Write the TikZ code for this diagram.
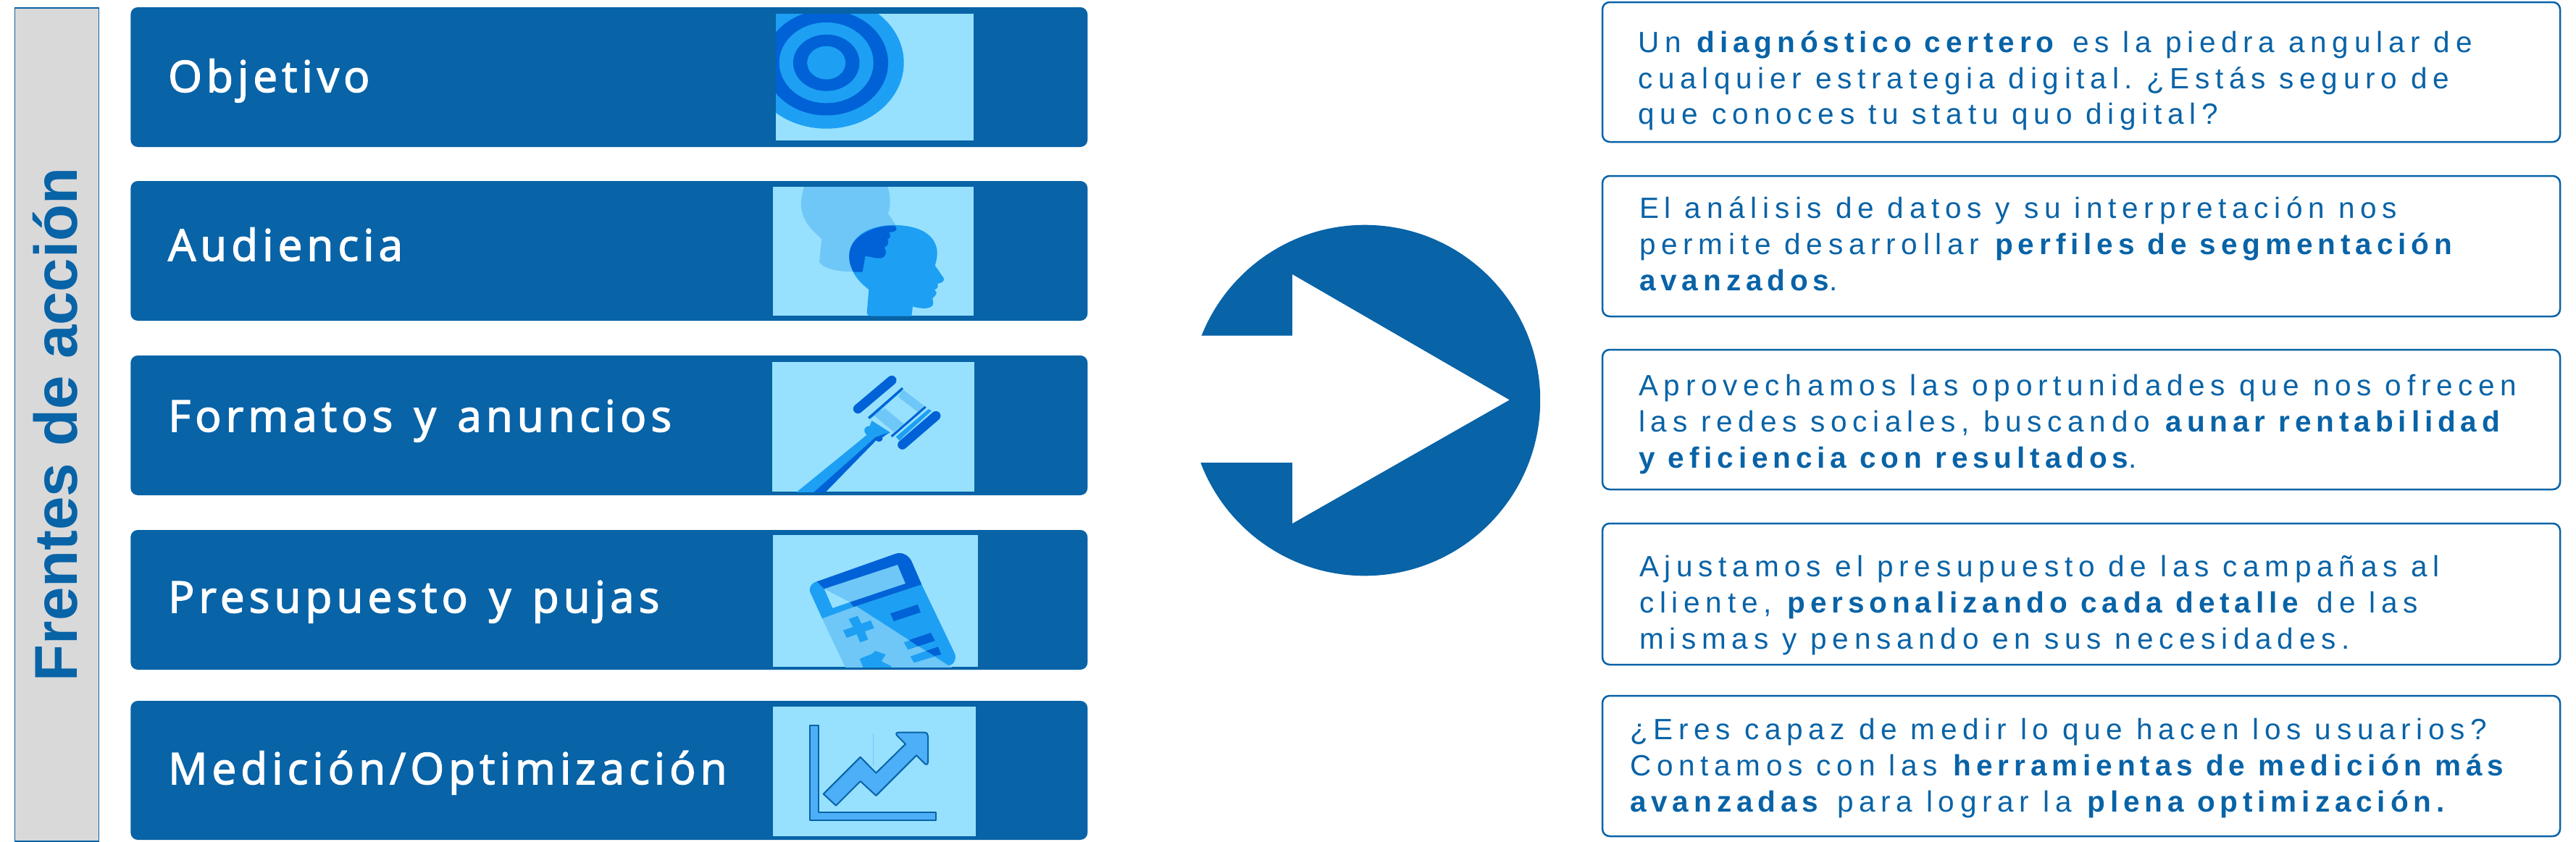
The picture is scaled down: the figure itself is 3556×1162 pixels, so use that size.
\documentclass[tikz,border=0pt]{standalone}
\usepackage{fontspec}
\newfontfamily\bodyfont[LetterSpace=19.1,BoldFeatures={LetterSpace=17}]{Liberation Sans}
\newfontfamily\labelfont[LetterSpace=10.3,WordSpace=1.35,FakeBold=2.5]{Open Sans}
\newfontfamily\sidefont{Liberation Sans}
\definecolor{navy}{HTML}{0863A7}
\definecolor{sky}{HTML}{97E1FF}
\definecolor{mid}{HTML}{1DA0F3}
\definecolor{deep}{HTML}{0062D6}
\definecolor{pale}{HTML}{6FC7F7}
\definecolor{chart}{HTML}{4DAFF7}
\definecolor{sidegray}{HTML}{D9D9D9}
\newcommand{\threelines}[3]{\vtop{\frenchspacing\baselineskip=49.8pt\hbox{#1}\hbox{#2}\hbox{#3}}}
\newcommand{\bd}[1]{\kern3pt\textbf{#1}}
\tikzset{
  bluebox/.style={rectangle,rounded corners=10pt,fill=navy,anchor=north west,inner sep=0pt,outer sep=0pt},
  textbox/.style={rectangle,rounded corners=10pt,draw=navy,line width=2.5pt,fill=white,anchor=north west,inner sep=0pt,outer sep=0pt},
  iconbg/.style={rectangle,fill=sky,anchor=north west,inner sep=0pt,outer sep=0pt},
  boxlabel/.style={anchor=base west,inner sep=0pt,text=white,font=\labelfont\fontsize{60}{70}\selectfont},
  boxtext/.style={anchor=base west,inner sep=0pt,text=navy,font=\bodyfont\fontsize{40.5}{50}\selectfont},
  zoomed/.style={x=0.33333pt,y=-0.33333pt}
}
\begin{document}
\begin{tikzpicture}[x=1pt,y=-1pt]
\useasboundingbox (0,0) rectangle (3556,1162);
\fill[white] (0,0) rectangle (3556,1162);
% side label
\node[rectangle,fill=sidegray,draw=navy,line width=1.5pt,anchor=north west,minimum width=116pt,minimum height=1151pt,inner sep=0pt] (side) at (19.7,10) {};
\node[anchor=base west,rotate=90,inner sep=0pt,text=navy,font=\sidefont\bfseries\fontsize{83.5}{90}\selectfont] (sidetext) at (106.6,941.5) {Frentes de acción};
% blue boxes
\node[bluebox,minimum width=1321pt,minimum height=193pt] (b1) at (180.3,10) {};
\node[bluebox,minimum width=1321pt,minimum height=193pt] (b2) at (180.3,250) {};
\node[bluebox,minimum width=1321pt,minimum height=193pt] (b3) at (180.3,491) {};
\node[bluebox,minimum width=1321pt,minimum height=193pt] (b4) at (180.3,732) {};
\node[bluebox,minimum width=1321pt,minimum height=192pt] (b5) at (180.3,968) {};
\node[boxlabel] (l1) at (232,127) {Objetivo};
\node[boxlabel] (l2) at (232,360) {Audiencia};
\node[boxlabel] (l3) at (232,596) {Formatos y anuncios};
\node[boxlabel] (l4) at (232,846) {Presupuesto y pujas};
\node[boxlabel] (l5) at (232,1083) {Medición/Optimización};
% icon 1: target
\node[iconbg,minimum width=273pt,minimum height=175pt] (i1) at (1071,19) {};
\begin{scope}
\clip (1071,19) rectangle (1344,194);
\fill[mid] (1140.7,86.7) ellipse [x radius=107,y radius=91];
\fill[deep] (1140.7,86.7) ellipse [x radius=85.3,y radius=72.7];
\fill[mid] (1140.7,86.7) ellipse [x radius=65,y radius=55.7];
\fill[deep] (1140.7,86.7) ellipse [x radius=45.8,y radius=39];
\fill[mid] (1140.7,86.7) ellipse [x radius=26.5,y radius=23];
\end{scope}
% icon 2: heads
\node[iconbg,minimum width=277pt,minimum height=178pt] (i2) at (1067,258) {};
\begin{scope}
\clip (1067,258) rectangle (1344,436);
\begin{scope}[shift={(1040,240)},zoomed]
\fill[pale] (215,40) .. controls (200,80) and (190,130) .. (205,170) .. controls (220,215) and (250,240) .. (283,270) -- (273,365) .. controls (290,395) and (360,408) .. (420,405) -- (600,225) -- (590,213) -- (558,165) .. controls (570,130) and (570,85) .. (550,40) -- cycle;
\fill[mid] (590,213) .. controls (480,210) and (395,260) .. (397,345) .. controls (400,410) and (440,450) .. (478,480) -- (470,575) .. controls (472,585) and (478,590) .. (485,590) -- (655,590) -- (660,550) .. controls (690,560) and (745,565) .. (745,535) -- (742,515) .. controls (750,510) and (760,498) .. (758,490) -- (750,482) .. controls (758,478) and (768,472) .. (763,455) .. controls (775,455) and (795,445) .. (788,432) -- (752,380) .. controls (762,350) and (765,320) .. (755,295) .. controls (735,240) and (670,215) .. (590,213) -- cycle;
\fill[deep] (582,215) .. controls (595,218) and (598,238) .. (580,240) -- (562,243) .. controls (570,255) and (568,268) .. (555,272) .. controls (565,285) and (555,300) .. (542,305) .. controls (552,320) and (555,345) .. (525,350) .. controls (505,352) and (485,342) .. (463,342) -- (452,407) -- (415,407) .. controls (405,390) and (395,365) .. (397,340) .. controls (395,265) and (490,213) .. (582,215) -- cycle;
\end{scope}
\end{scope}
% icon 3: gavel
\node[iconbg,minimum width=278.5pt,minimum height=179pt] (i3) at (1066,500) {};
\begin{scope}
\clip (1066,500) rectangle (1344.5,679);
\begin{scope}[shift={(1040,480)},zoomed]
\draw[pale,line width=12pt] (610,190) -- (695,255);
\draw[pale,line width=8pt] (535,260) -- (615,325);
\fill[pale] (497,280) -- (525,255) -- (610,325) -- (582,350) -- cycle;
\fill[mid] (500,272) -- (590,190) -- (604,175) -- (615,180) -- (480,300) -- cycle;
\fill[mid] (590,370) -- (725,255) -- (738,262) -- (620,370) -- (605,385) -- cycle;
\fill[deep] (474,289) -- (615,165) -- (621,172) -- (480,296) -- cycle;
\fill[deep] (569,365) -- (710,242) -- (716,249) -- (575,372) -- cycle;
\draw[deep,line width=13pt,line cap=round] (433,254) -- (573,136);
\draw[deep,line width=13pt,line cap=round] (617,403) -- (756,283);
\fill[mid] (178,600) -- (470,362) .. controls (450,345) and (460,325) .. (482,325) -- (490,303) -- (567,352) -- (510,380) -- (298,600) -- cycle;
\fill[deep] (250,600) -- (480,395) -- (505,372) -- (562,352) -- (535,372) .. controls (540,390) and (515,395) .. (508,385) -- (298,600) -- cycle;
\end{scope}
\end{scope}
% icon 4: calculator
\node[iconbg,minimum width=283pt,minimum height=182pt] (i4) at (1067,739) {};
\begin{scope}
\clip (1067,739) rectangle (1350,921);
\begin{scope}[shift={(1040,720)},zoomed]
\fill[pale] (285,403) -- (415,355) -- (400,335) -- (830,610) -- (385,615) -- cycle;
\fill[pale] (293,280) -- (597,180) -- (630,258) -- (400,335) -- cycle;
\fill[mid] (262,250) .. controls (240,255) and (225,280) .. (238,300) -- (285,403) -- (415,355) -- (400,335) -- (328,360) -- (293,280) -- cycle;
\fill[mid] (400,335) -- (415,355) -- (697,262) -- (835,550) .. controls (842,575) and (825,600) .. (808,597) -- cycle;
\fill[deep] (262,250) -- (590,134) .. controls (620,125) and (645,145) .. (655,165) -- (697,262) -- (415,355) -- (400,335) -- (630,258) -- (597,180) -- (293,280) -- cycle;
\fill[deep] (567,382) -- (680,345) -- (693,377) -- (582,414) -- cycle;
\fill[mid] (623,502) -- (735,462) -- (752,495) -- (640,532) -- cycle;
\fill[deep] (645,492) -- (735,462) -- (752,495) -- (682,518) -- cycle;
\fill[mid] (650,560) -- (765,520) -- (778,552) -- (665,586) -- cycle;
\fill[deep] (715,537) -- (765,520) -- (778,552) -- (750,558) -- cycle;
\fill[mid] (395,405) -- (432,392) -- (447,424) -- (486,411) -- (500,443) -- (462,456) -- (475,490) -- (442,502) -- (428,468) -- (386,483) -- (372,452) -- (412,438) -- cycle;
\fill[mid] (505,537) -- (548,552) -- (530,580) -- (570,600) -- (570,620) -- (460,620) -- (440,570) -- (490,550) -- cycle;
\end{scope}
\end{scope}
% icon 5: chart
\node[iconbg,minimum width=280pt,minimum height=179pt] (i5) at (1067,976) {};
\begin{scope}[shift={(1040,960)},zoomed]
\draw[pale,line width=0.8pt] (497,160) -- (497,290);
\filldraw[fill=chart,draw=navy,line width=2pt,line join=round] (235,127) -- (270,127) -- (270,485) -- (757,485) -- (757,520) -- (235,520) -- cycle;
\filldraw[fill=chart,draw=navy,line width=2pt,line join=round] (290,410) -- (443,257) -- (508,323) -- (630,203) -- (595,168) .. controls (588,160) and (592,155) .. (602,155) -- (708,155) .. controls (718,155) and (723,162) .. (723,170) -- (723,278) .. controls (723,288) and (715,290) .. (709,284) -- (675,250) -- (508,417) -- (443,357) -- (342,458) -- cycle;
\end{scope}
% central arrow
\node[circle,fill=navy,minimum size=484.6pt,inner sep=0pt,outer sep=0pt] (disc) at (1883.9,553) {};
\fill[white] (1600,463.6) -- (1784,463.6) -- (1784,379) -- (2083.5,552.4) -- (1784,723) -- (1784,638.9) -- (1600,638.9) -- cycle;
% text boxes
\node[textbox,minimum width=1322pt,minimum height=193pt] (t1) at (2212,3) {};
\node[textbox,minimum width=1322pt,minimum height=194pt] (t2) at (2212,243) {};
\node[textbox,minimum width=1322pt,minimum height=193pt] (t3) at (2212,483) {};
\node[textbox,minimum width=1322pt,minimum height=195pt] (t4) at (2212,723) {};
\node[textbox,minimum width=1322pt,minimum height=194pt] (t5) at (2212,961) {};
\node[boxtext] (p1) at (2261,72.3) {\threelines{Un \bd{diagnóstico certero} es la piedra angular de}{cualquier estrategia digital. ¿Estás seguro de}{que conoces tu statu quo digital?}};
\node[boxtext] (p2) at (2263,301.7) {\threelines{El análisis de datos y su interpretación nos}{permite desarrollar \bd{perfiles de segmentación}}{\textbf{avanzados}.}};
\node[boxtext] (p3) at (2262,546.6) {\threelines{Aprovechamos las oportunidades que nos ofrecen}{las redes sociales, buscando \bd{aunar rentabilidad}}{\textbf{y eficiencia con resultados}.}};
\node[boxtext] (p4) at (2263,796.7) {\threelines{Ajustamos el presupuesto de las campañas al}{cliente, \bd{personalizando cada detalle} de las}{mismas y pensando en sus necesidades.}};
\node[boxtext] (p5) at (2250,1021.7) {\threelines{¿Eres capaz de medir lo que hacen los usuarios?}{Contamos con las \bd{herramientas de medición más}}{\textbf{avanzadas} para lograr la \bd{plena optimización.}}};
\end{tikzpicture}
\end{document}
